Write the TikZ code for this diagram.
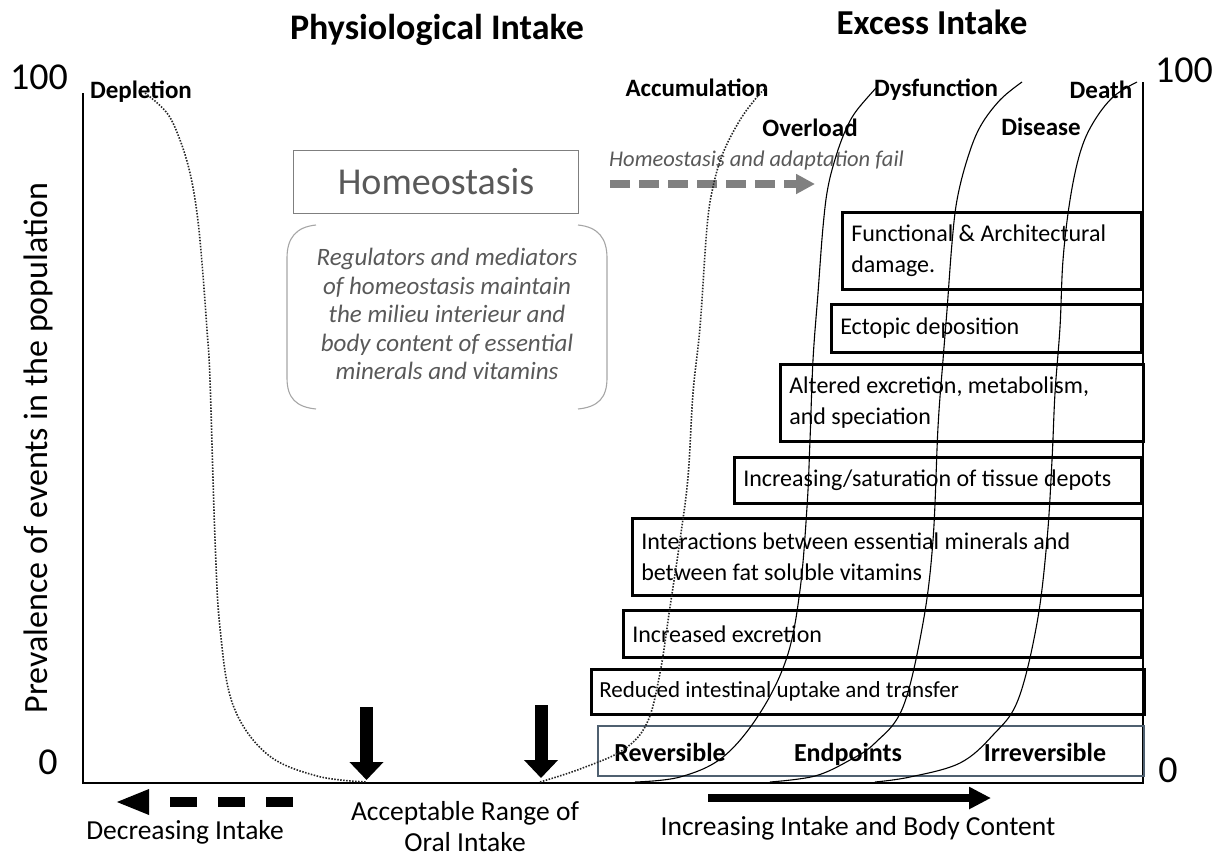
\documentclass[tikz,border=0pt]{standalone}
\usepackage{fontspec}
\setmainfont{Carlito}
\usetikzlibrary{arrows.meta}
\definecolor{txtgray}{HTML}{595959}
\definecolor{boxgray}{HTML}{7F7F7F}
\definecolor{brgray}{HTML}{A6A6A6}
\definecolor{arrgray}{HTML}{808080}
\definecolor{slate}{HTML}{4F6070}
\newcommand{\fsz}[2]{\fontsize{#1}{#2}\selectfont}
\newcommand{\natspace}{\spaceskip=0pt\xspaceskip=0pt\relax}
\begin{document}
\begin{tikzpicture}[x=1pt,y=-1pt,
  exbox/.style={draw=black, line width=2.6pt, anchor=north west, inner xsep=9pt, inner ysep=0pt, align=flush left, font=\fsz{24}{31}, execute at begin node=\natspace},
  lbl/.style={font=\bfseries\fsz{25}{28}, inner sep=0pt, anchor=base},
  axlbl/.style={font=\fsz{27.5}{31}, inner sep=0pt, align=center},
  num/.style={font=\fsz{38}{40}, inner sep=0pt},
  curve/.style={line width=1.1pt, black},
  dcurve/.style={line width=1.6pt, black!85, dash pattern=on 1.5pt off 1.5pt},
  axis/.style={line width=2.2pt, black},
  blockarrow/.style={line width=13pt, -{Triangle[length=18pt,width=33pt]}}
]
\useasboundingbox (0,0) rectangle (1217,859);

% titles
\node[font=\bfseries\fsz{36}{40}, inner sep=0pt] (t1) at (437,30) {Physiological Intake};
\node[font=\bfseries\fsz{35}{40}, inner sep=0pt] (t2) at (932,22) {Excess Intake};

% axes
\coordinate (o) at (83,783);
\coordinate (ytop) at (83,93);
\coordinate (xend) at (1143,783);
\coordinate (rtop) at (1143,82);
\draw[axis] (ytop) -- (o) -- (xend) -- (rtop);

\node[num] (n100l) at (39,77) {100};
\node[num] (n100r) at (1184,70) {100};
\node[num] (n0l) at (48,762) {0};
\node[num] (n0r) at (1168,770) {0};

\node[font=\fsz{34}{38}, inner sep=0pt, rotate=90] (ylab) at (38,448) {Prevalence of events in the population};

% boxes
\node[exbox, text width=281pt, minimum height=77pt] (b1) at (841,211) {Functional \& Architectural\\damage.};
\node[exbox, text width=292pt, minimum height=48pt] (b2) at (830,303) {Ectopic deposition};
\node[exbox, text width=345pt, minimum height=77pt] (b3) at (779,363) {Altered excretion, metabolism,\\and speciation};
\node[exbox, text width=389pt, minimum height=46pt] (b4) at (733,456) {Increasing/saturation of tissue depots};
\node[exbox, text width=491pt, minimum height=77pt] (b5) at (631,517) {Interactions between essential minerals and\\between fat soluble vitamins};
\node[exbox, text width=500pt, minimum height=47pt] (b6) at (622,609) {Increased excretion};
\node[exbox, text width=537pt, minimum height=45pt, font=\fsz{23}{26}, inner xsep=8pt] (b7) at (590,668) {Reduced intestinal uptake and transfer};
\node[draw=slate, line width=1.6pt, anchor=north west, minimum width=546pt, minimum height=50pt, inner sep=0pt] (b8) at (597,725) {};
\node[lbl, font=\bfseries\fsz{26}{28}] (rev) at (670,761) {Reversible};
\node[lbl, font=\bfseries\fsz{26}{28}] (endp) at (848,761) {Endpoints};
\node[lbl, font=\bfseries\fsz{26}{28}] (irr) at (1045,761) {Irreversible};

% homeostasis
\node[draw=boxgray, line width=1.3pt, minimum width=285pt, minimum height=63pt, inner sep=0pt, text=txtgray, font=\fsz{38}{40}] (hom) at (436,182) {Homeostasis};
\draw[brgray, line width=1.1pt] (316,225) .. controls (296,227) and (287,238) .. (287,258) -- (287,378) .. controls (287,398) and (296,407) .. (316,409);
\draw[brgray, line width=1.1pt] (578,225) .. controls (598,227) and (607,238) .. (607,258) -- (607,378) .. controls (607,398) and (598,407) .. (578,409);
\node[font=\itshape\fsz{25}{28.5}, text=txtgray, align=center, inner sep=0pt] (reg) at (447,314) {Regulators and mediators\\of homeostasis maintain\\the milieu interieur and\\body content of essential\\minerals and vitamins};

\node[font=\itshape\fsz{22.5}{24}, text=txtgray, anchor=west, inner sep=0pt] (fail) at (609,160) {Homeostasis and adaptation fail};
\coordinate (fa1) at (610,184);
\coordinate (fa2) at (815,184);
\draw[arrgray, line width=8pt, dash pattern=on 20pt off 9pt, -{Triangle[length=19pt,width=19pt]}] (fa1) -- (fa2);

% curve labels
\node[lbl] (dep) at (141,98) {Depletion};
\node[lbl] (acc) at (697,96) {Accumulation};
\node[lbl] (dys) at (936,96) {Dysfunction};
\node[lbl] (dea) at (1101,98) {Death};
\node[lbl] (ovl) at (810,136) {Overload};
\node[lbl] (dis) at (1041,135) {Disease};

% curves
\draw[dcurve] plot[smooth, tension=0.6] coordinates {(145,93) (167,113) (180,140) (190,173) (197,213) (202,263) (207,330) (210,380) (215,539) (220,628) (233,705) (267,754) (317,776) (367,782)};
\draw[dcurve] plot[smooth, tension=0.6] coordinates {(540,782) (580,769) (623,750) (647,723) (660,673) (670,607) (680,540) (688,477) (693,393) (700,327) (707,227) (713,187) (723,153) (740,120) (757,97) (767,87)};
\draw[curve] plot[smooth, tension=0.6] coordinates {(635,782) (680,777) (723,757) (760,713) (787,657) (800,590) (807,507) (810,440) (813,360) (818,293) (823,227) (828,187) (837,153) (847,127) (857,110) (876,88)};
\draw[curve] plot[smooth, tension=0.6] coordinates {(770,782) (815,776) (850,760) (875,743) (903,707) (923,623) (933,540) (938,427) (943,360) (947,310) (952,243) (957,200) (967,160) (980,127) (1000,100) (1022,82)};
\draw[curve] plot[smooth, tension=0.6] coordinates {(875,782) (910,777) (960,763) (993,735) (1018,700) (1037,623) (1047,540) (1052,460) (1055,393) (1060,327) (1063,260) (1070,200) (1080,153) (1093,123) (1113,97) (1137,82)};

% down arrows
\coordinate (d1s) at (366.5,707);
\coordinate (d1e) at (366.5,780);
\coordinate (d2s) at (541,705);
\coordinate (d2e) at (541,778);
\draw[blockarrow] (d1s) -- (d1e);
\draw[blockarrow] (d2s) -- (d2e);

% bottom arrows
\coordinate (l1) at (293,802);
\coordinate (l2) at (115,802);
\draw[line width=10pt, dash pattern=on 27pt off 21pt, -{Triangle[length=34pt,width=23pt]}] (l1) -- (l2);
\coordinate (r1) at (708,798);
\coordinate (r2) at (991,798);
\draw[line width=8pt, -{Triangle[length=22pt,width=21pt]}] (r1) -- (r2);

\node[axlbl] (decr) at (185,832) {Decreasing Intake};
\node[axlbl] (acc2) at (465,827) {Acceptable Range of\\Oral Intake};
\node[axlbl] (incr) at (858,828) {Increasing Intake and Body Content};
\end{tikzpicture}
\end{document}
